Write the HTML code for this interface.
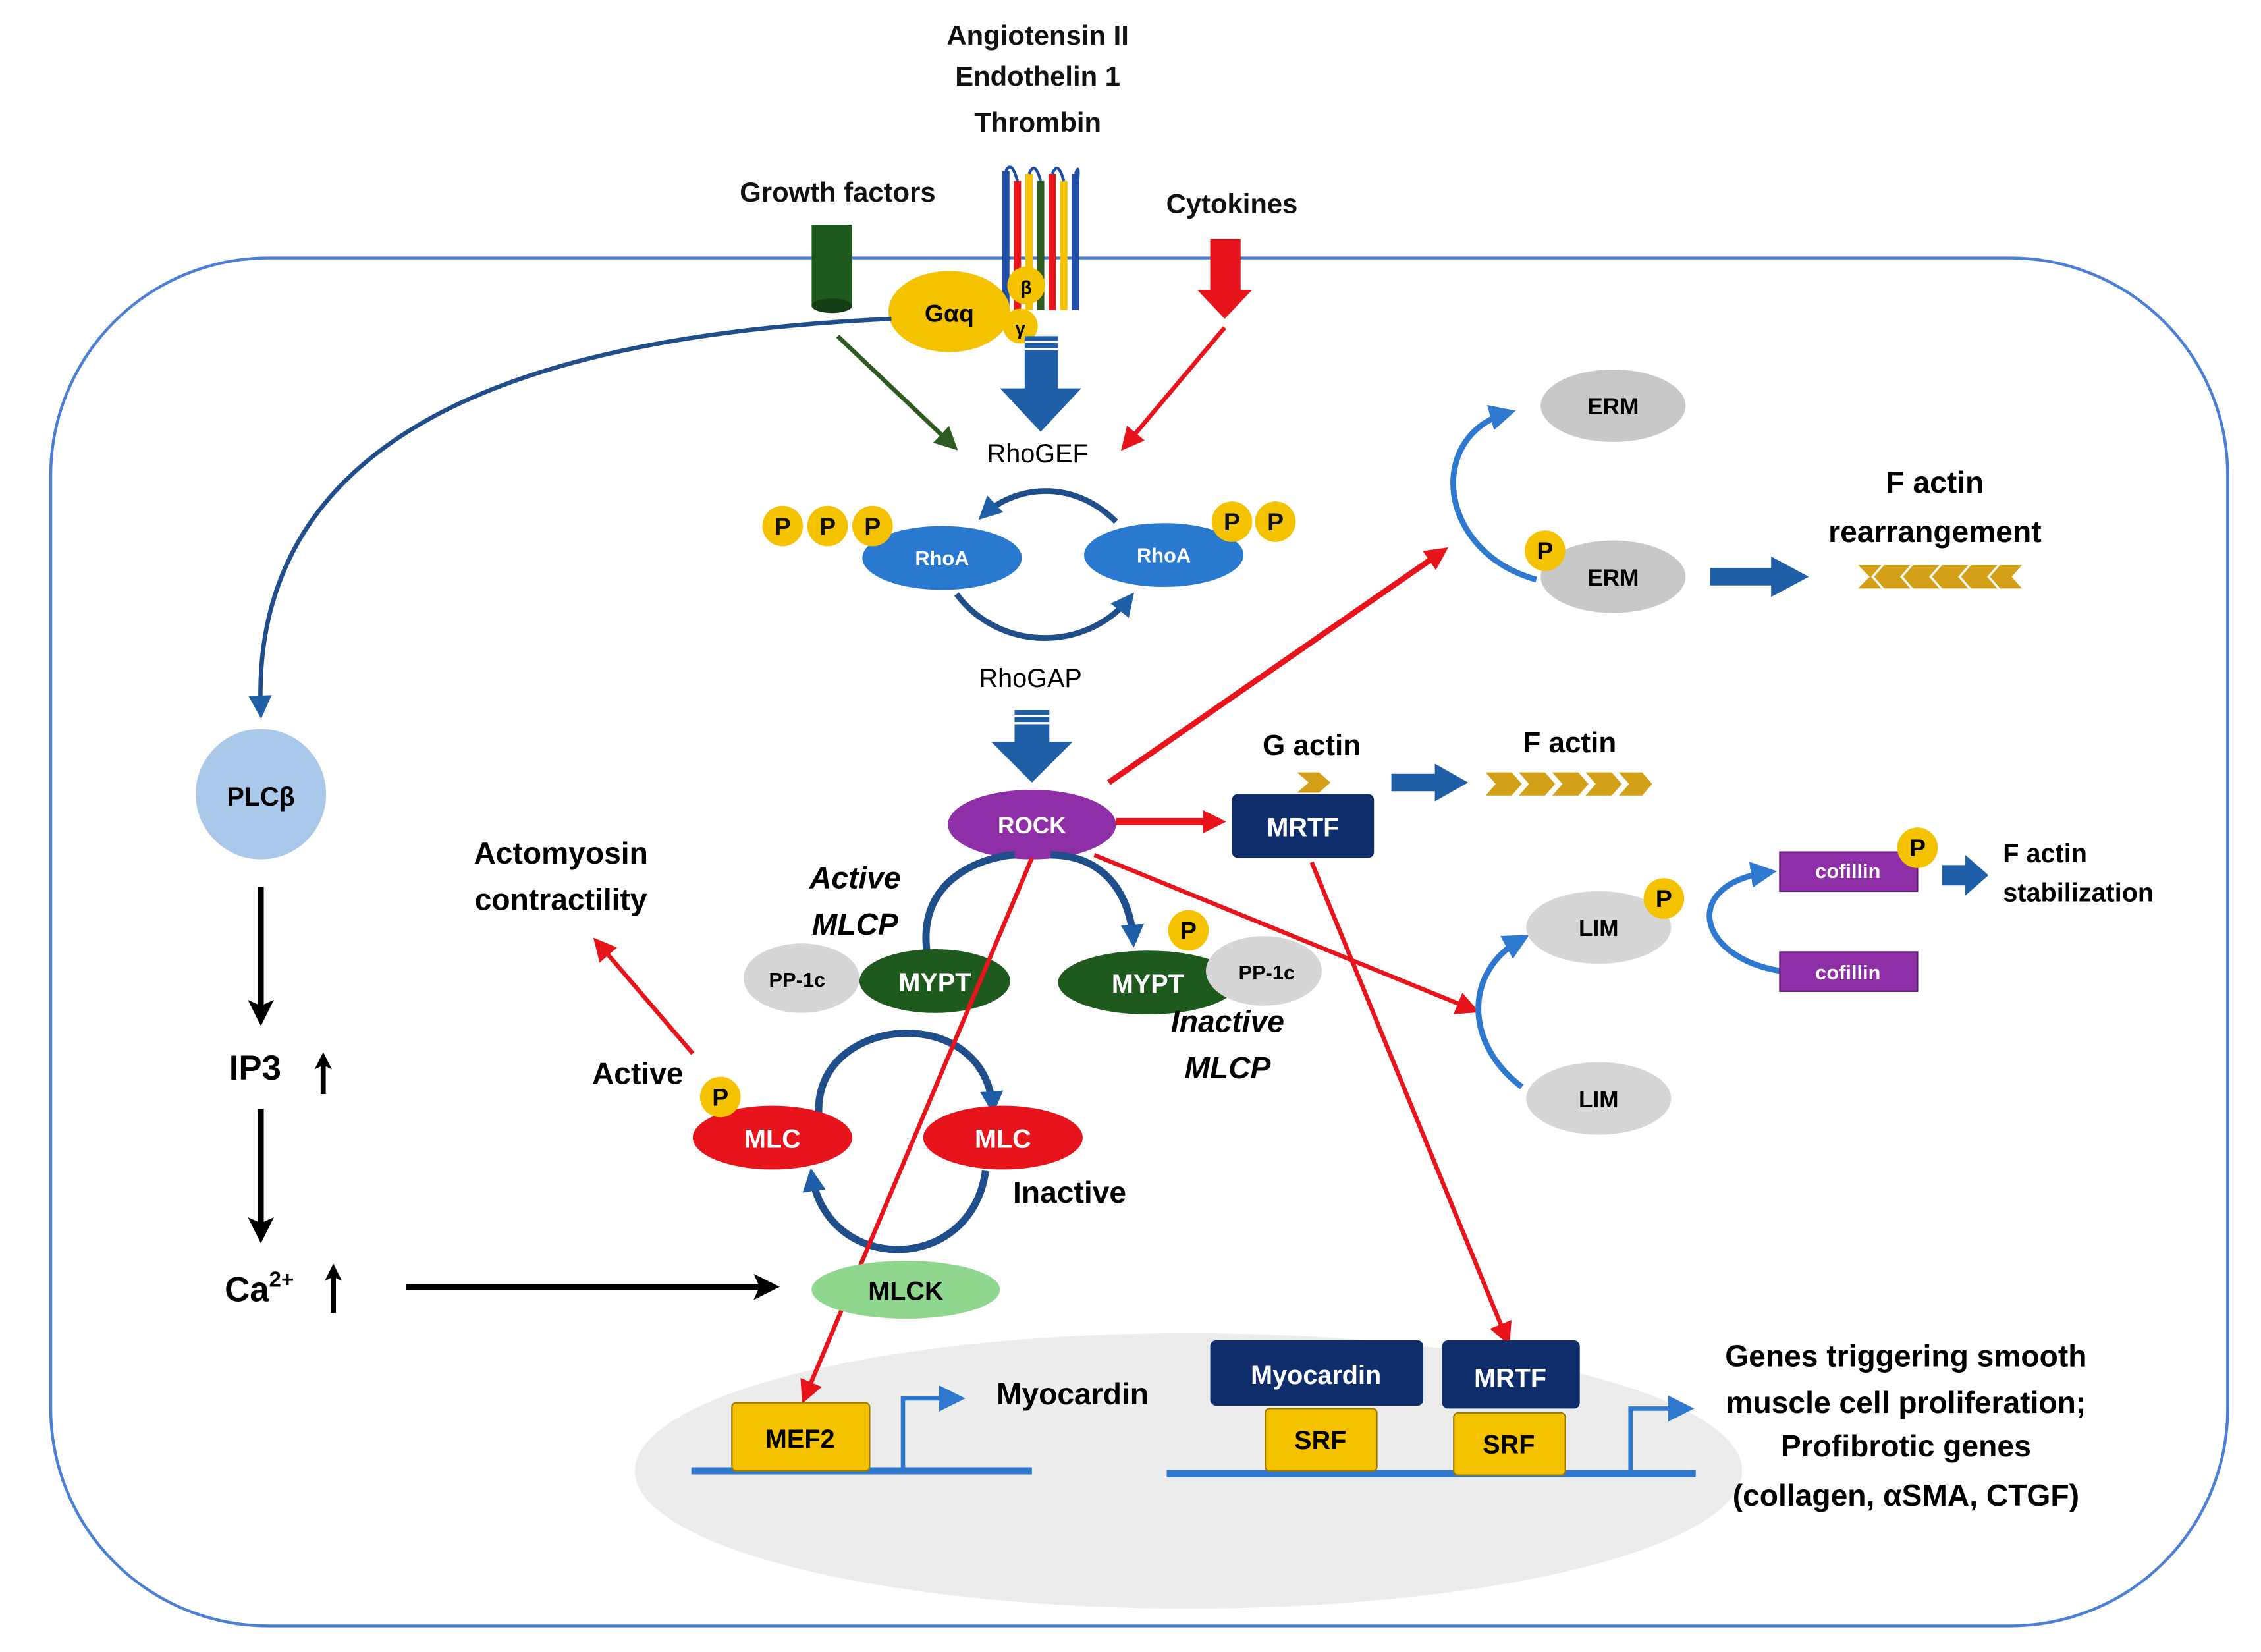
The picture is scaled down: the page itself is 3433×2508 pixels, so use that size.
<!DOCTYPE html>
<html><head><meta charset="utf-8"><style>
html,body{margin:0;padding:0;background:#fff;}
svg{display:block;}
text{font-family:"Liberation Sans",sans-serif;font-weight:bold;}
</style></head><body>
<svg width="3433" height="2508" viewBox="0 0 1560 1140" preserveAspectRatio="none" xmlns="http://www.w3.org/2000/svg">
<defs>
<marker id="arR" markerWidth="16" markerHeight="16" refX="12" refY="8" orient="auto" markerUnits="userSpaceOnUse"><path d="M0,0 L16,8 L0,16 z" fill="#e8141c"/></marker>
<marker id="arK" markerWidth="18" markerHeight="18" refX="14" refY="9" orient="auto" markerUnits="userSpaceOnUse"><path d="M0,0 L18,9 L0,18 L4,9 z" fill="#000"/></marker>
<marker id="ark" markerWidth="12" markerHeight="12" refX="8" refY="6" orient="auto" markerUnits="userSpaceOnUse"><path d="M0,0 L12,6 L0,12 L3,6 z" fill="#000"/></marker>
<marker id="arG" markerWidth="16" markerHeight="16" refX="12" refY="8" orient="auto" markerUnits="userSpaceOnUse"><path d="M0,0 L16,8 L0,16 z" fill="#2d5a1e"/></marker>
<marker id="arB" markerWidth="16" markerHeight="16" refX="12" refY="8" orient="auto" markerUnits="userSpaceOnUse"><path d="M0,0 L16,8 L0,16 z" fill="#1f5fa8"/></marker>
<marker id="arL" markerWidth="18" markerHeight="18" refX="12" refY="9" orient="auto" markerUnits="userSpaceOnUse"><path d="M0,0 L18,9 L0,18 z" fill="#2e78d0"/></marker>
</defs>
<rect x="35" y="178" width="1502" height="944" rx="150" ry="150" fill="none" stroke="#4a7fd4" stroke-width="2"/>
<ellipse cx="820" cy="1015" rx="382" ry="95" fill="#ececec"/>
<g font-size="19" text-anchor="middle" fill="#111">
<text x="716" y="31">Angiotensin II</text>
<text x="716" y="59">Endothelin 1</text>
<text x="716" y="91">Thrombin</text>
<text x="578" y="139">Growth factors</text>
<text x="850" y="147">Cytokines</text>
</g>
<g stroke-width="5" fill="none">
<path d="M694,118 V212" stroke="#1f4ea8"/>
<path d="M702,125 V214" stroke="#e8141c"/>
<path d="M710,120 V214" stroke="#f5c200"/>
<path d="M718,125 V214" stroke="#2d5a1e"/>
<path d="M726,120 V214" stroke="#e8141c"/>
<path d="M734,125 V214" stroke="#f5c200"/>
<path d="M742,120 V214" stroke="#1f4ea8"/>
</g>
<path d="M694,118 Q698,110 702,125 M710,120 Q714,110 718,125 M726,120 Q730,110 734,125 M742,120 Q746,108 742,140" stroke="#1f4ea8" stroke-width="2" fill="none"/>
<rect x="560" y="155" width="28" height="56" fill="#1e5a1e"/>
<ellipse cx="574" cy="211" rx="14" ry="5" fill="#143d14"/>
<path d="M835,165 H856 V200 H864 L845,220 L826,200 H835 Z" fill="#e8141c"/>
<ellipse cx="655" cy="215" rx="42" ry="28" fill="#f5c200"/>
<text x="655" y="222" font-size="17" text-anchor="middle">Gαq</text>
<circle cx="708" cy="197" r="13" fill="#f5c200"/><text x="708" y="203" font-size="13" text-anchor="middle">β</text>
<circle cx="704" cy="225" r="12" fill="#f5c200"/><text x="704" y="231" font-size="13" text-anchor="middle">γ</text>
<path d="M707,232 H730 V268 H746 L718,298 L690,268 H707 Z" fill="#1f5fa8"/>
<path d="M707,236 H730 M707,241 H730" stroke="#fff" stroke-width="1.5"/>
<line x1="578" y1="232" x2="658" y2="308" stroke="#2d5a1e" stroke-width="3" marker-end="url(#arG)"/>
<line x1="845" y1="226" x2="776" y2="308" stroke="#e8141c" stroke-width="3" marker-end="url(#arR)"/>
<text x="716" y="319" font-size="18" text-anchor="middle" style="font-weight:normal">RhoGEF</text>
<path d="M615,220 C400,230 170,280 180,492" stroke="#1f4e8a" stroke-width="3" fill="none" marker-end="url(#arB)"/>
<path d="M770,360 C740,330 700,335 678,356" stroke="#1f4e8a" stroke-width="4" fill="none" marker-end="url(#arB)"/>
<path d="M660,410 C690,450 750,450 780,412" stroke="#1f4e8a" stroke-width="4" fill="none" marker-end="url(#arB)"/>
<ellipse cx="650" cy="385" rx="55" ry="22" fill="#2a79d0"/>
<ellipse cx="803" cy="383" rx="55" ry="22" fill="#2a79d0"/>
<g font-size="14" fill="#fff" text-anchor="middle"><text x="650" y="390">RhoA</text><text x="803" y="388">RhoA</text></g>
<g fill="#f5c200"><circle cx="540" cy="363" r="14"/><circle cx="571" cy="363" r="14"/><circle cx="602" cy="363" r="14"/><circle cx="850" cy="360" r="14"/><circle cx="880" cy="360" r="14"/></g>
<g font-size="17" text-anchor="middle" fill="#111"><text x="540" y="369">P</text><text x="571" y="369">P</text><text x="602" y="369">P</text><text x="850" y="366">P</text><text x="880" y="366">P</text></g>
<text x="711" y="474" font-size="18" text-anchor="middle" style="font-weight:normal">RhoGAP</text>
<path d="M700,490 H724 V512 H740 L712,540 L684,512 H700 Z" fill="#1f5fa8"/>
<path d="M700,494 H724 M700,499 H724" stroke="#fff" stroke-width="1.5"/>
<line x1="765" y1="540" x2="996" y2="380" stroke="#e8141c" stroke-width="4" marker-end="url(#arR)"/>
<line x1="770" y1="567" x2="842" y2="567" stroke="#e8141c" stroke-width="5" marker-end="url(#arR)"/>
<line x1="755" y1="590" x2="1017" y2="697" stroke="#e8141c" stroke-width="3" marker-end="url(#arR)"/>
<ellipse cx="712" cy="569" rx="58" ry="24" fill="#8e2fa8"/>
<text x="712" y="575" font-size="16" fill="#fff" text-anchor="middle">ROCK</text>
<rect x="850" y="548" width="98" height="44" rx="4" fill="#0f2d6b"/>
<text x="899" y="577" font-size="18" fill="#fff" text-anchor="middle">MRTF</text>
<line x1="905" y1="595" x2="1040" y2="925" stroke="#e8141c" stroke-width="3" marker-end="url(#arR)"/>
<text x="905" y="521" font-size="20" text-anchor="middle">G actin</text>
<path d="M895,533 H910 L918,540 L910,547 H895 L903,540 Z" fill="#d4a017"/>
<text x="1083" y="519" font-size="20" text-anchor="middle">F actin</text>
<path d="M960,534 H990 V527 L1013,540 L990,553 V546 H960 Z" fill="#1f5fa8"/>
<g fill="#d4a017">
<path d="M1025,533 H1043 L1050,541 L1043,549 H1025 L1032,541 Z"/><path d="M1048,533 H1066 L1073,541 L1066,549 H1048 L1055,541 Z"/><path d="M1071,533 H1089 L1096,541 L1089,549 H1071 L1078,541 Z"/><path d="M1094,533 H1112 L1119,541 L1112,549 H1094 L1101,541 Z"/><path d="M1117,533 H1133 L1140,541 L1133,549 H1117 L1124,541 Z"/>
</g>
<path d="M1060,400 C990,380 985,300 1040,285" stroke="#2e78d0" stroke-width="4" fill="none" marker-end="url(#arL)"/>
<ellipse cx="1113" cy="280" rx="50" ry="25" fill="#c8c8c8"/>
<ellipse cx="1113" cy="398" rx="50" ry="25" fill="#c8c8c8"/>
<g font-size="16" text-anchor="middle"><text x="1113" y="286">ERM</text><text x="1113" y="404">ERM</text></g>
<circle cx="1066" cy="380" r="14" fill="#f5c200"/><text x="1066" y="386" font-size="17" text-anchor="middle">P</text>
<text x="1335" y="340" font-size="21" text-anchor="middle">F actin</text>
<text x="1335" y="374" font-size="21" text-anchor="middle">rearrangement</text>
<path d="M1180,392 H1222 V384 L1248,398 L1222,412 V404 H1180 Z" fill="#1f5fa8"/>
<g fill="#d4a017">
<path d="M1300,390 H1318 L1311,398 L1318,406 H1300 L1293,398 Z"/><path d="M1320,390 H1338 L1331,398 L1338,406 H1320 L1313,398 Z"/><path d="M1340,390 H1358 L1351,398 L1358,406 H1340 L1333,398 Z"/><path d="M1360,390 H1378 L1371,398 L1378,406 H1360 L1353,398 Z"/><path d="M1380,390 H1395 L1388,398 L1395,406 H1380 L1373,398 Z"/><path d="M1282,390 H1298 L1291,398 L1298,406 H1282 L1290,398 Z"/>
</g>
<path d="M1050,750 C1010,720 1010,670 1050,648" stroke="#2e78d0" stroke-width="4" fill="none" marker-end="url(#arL)"/>
<ellipse cx="1103" cy="640" rx="50" ry="25" fill="#d6d6d6"/>
<ellipse cx="1103" cy="758" rx="50" ry="25" fill="#d6d6d6"/>
<g font-size="16" text-anchor="middle"><text x="1103" y="646">LIM</text><text x="1103" y="764">LIM</text></g>
<circle cx="1148" cy="620" r="14" fill="#f5c200"/><text x="1148" y="626" font-size="17" text-anchor="middle">P</text>
<path d="M1228,670 C1170,660 1160,610 1220,602" stroke="#2e78d0" stroke-width="4" fill="none" marker-end="url(#arL)"/>
<rect x="1228" y="588" width="95" height="27" fill="#8e2fa8" stroke="#5a1a70"/>
<rect x="1228" y="657" width="95" height="27" fill="#8e2fa8" stroke="#5a1a70"/>
<g font-size="14" fill="#fff" text-anchor="middle"><text x="1275" y="606">cofillin</text><text x="1275" y="676">cofillin</text></g>
<circle cx="1323" cy="585" r="14" fill="#f5c200"/><text x="1323" y="591" font-size="17" text-anchor="middle">P</text>
<path d="M1340,597 H1356 V590 L1372,604 L1356,618 V611 H1340 Z" fill="#1f5fa8"/>
<text x="1382" y="595" font-size="18">F actin</text>
<text x="1382" y="622" font-size="18">stabilization</text>
<circle cx="180" cy="548" r="45" fill="#a9c8ea"/>
<text x="180" y="556" font-size="18" text-anchor="middle">PLCβ</text>
<line x1="180" y1="612" x2="180" y2="704" stroke="#000" stroke-width="4" marker-end="url(#arK)"/>
<text x="158" y="745" font-size="24">IP3</text>
<line x1="223" y1="755" x2="223" y2="730" stroke="#000" stroke-width="3.5" marker-end="url(#ark)"/>
<line x1="180" y1="765" x2="180" y2="854" stroke="#000" stroke-width="4" marker-end="url(#arK)"/>
<text x="155" y="898" font-size="24">Ca<tspan font-size="15" dy="-10">2+</tspan></text>
<line x1="230" y1="906" x2="230" y2="876" stroke="#000" stroke-width="3.5" marker-end="url(#ark)"/>
<line x1="280" y1="888" x2="534" y2="888" stroke="#000" stroke-width="4" marker-end="url(#arK)"/>
<path d="M640,660 C630,600 690,590 700,590" stroke="#1f4e8a" stroke-width="5" fill="none"/>
<path d="M725,590 C760,590 780,615 782,650" stroke="#1f4e8a" stroke-width="5" fill="none" marker-end="url(#arB)"/>
<ellipse cx="553" cy="675" rx="40" ry="24" fill="#d6d6d6"/>
<ellipse cx="645" cy="677" rx="52" ry="22" fill="#1e5a1e"/>
<text x="550" y="681" font-size="14" text-anchor="middle">PP-1c</text>
<text x="645" y="684" font-size="18" fill="#fff" text-anchor="middle">MYPT</text>
<ellipse cx="792" cy="678" rx="62" ry="22" fill="#1e5a1e"/>
<ellipse cx="872" cy="670" rx="40" ry="24" fill="#d6d6d6"/>
<text x="792" y="685" font-size="18" fill="#fff" text-anchor="middle">MYPT</text>
<text x="874" y="676" font-size="14" text-anchor="middle">PP-1c</text>
<circle cx="820" cy="642" r="14" fill="#f5c200"/><text x="820" y="648" font-size="17" text-anchor="middle">P</text>
<g font-size="21" font-style="italic" text-anchor="middle"><text x="590" y="613">Active</text><text x="590" y="645">MLCP</text><text x="847" y="712">Inactive</text><text x="847" y="744">MLCP</text></g>
<path d="M565,770 C560,700 680,690 685,765" stroke="#1f4e8a" stroke-width="5" fill="none" marker-end="url(#arB)"/>
<path d="M680,808 C670,880 570,880 560,810" stroke="#1f4e8a" stroke-width="5" fill="none" marker-end="url(#arB)"/>
<line x1="712" y1="592" x2="555" y2="965" stroke="#e8141c" stroke-width="3" marker-end="url(#arR)"/>
<ellipse cx="533" cy="785" rx="55" ry="22" fill="#e8141c"/>
<ellipse cx="692" cy="785" rx="55" ry="22" fill="#e8141c"/>
<g font-size="18" fill="#fff" text-anchor="middle"><text x="533" y="792">MLC</text><text x="692" y="792">MLC</text></g>
<circle cx="497" cy="757" r="14" fill="#f5c200"/><text x="497" y="763" font-size="17" text-anchor="middle">P</text>
<text x="440" y="748" font-size="21" text-anchor="middle">Active</text>
<text x="738" y="830" font-size="21" text-anchor="middle">Inactive</text>
<ellipse cx="625" cy="890" rx="65" ry="20" fill="#8fd68f"/>
<text x="625" y="897" font-size="18" text-anchor="middle">MLCK</text>
<text x="387" y="596" font-size="21" text-anchor="middle">Actomyosin</text>
<text x="387" y="628" font-size="21" text-anchor="middle">contractility</text>
<line x1="478" y1="727" x2="412" y2="650" stroke="#e8141c" stroke-width="3" marker-end="url(#arR)"/>
<line x1="477" y1="1015" x2="712" y2="1015" stroke="#2e78d0" stroke-width="5"/>
<rect x="505" y="968" width="95" height="47" rx="3" fill="#f5c200" stroke="#9a7a00"/>
<text x="552" y="999" font-size="18" text-anchor="middle">MEF2</text>
<path d="M623,1015 V965 H660" stroke="#2e78d0" stroke-width="3" fill="none" marker-end="url(#arL)"/>
<text x="740" y="969" font-size="21" text-anchor="middle">Myocardin</text>
<line x1="805" y1="1017" x2="1170" y2="1017" stroke="#2e78d0" stroke-width="5"/>
<rect x="835" y="925" width="147" height="45" rx="4" fill="#0f2d6b"/>
<text x="908" y="955" font-size="18" fill="#fff" text-anchor="middle">Myocardin</text>
<rect x="995" y="925" width="95" height="47" rx="4" fill="#0f2d6b"/>
<text x="1042" y="957" font-size="18" fill="#fff" text-anchor="middle">MRTF</text>
<rect x="873" y="972" width="77" height="43" rx="3" fill="#f5c200" stroke="#9a7a00"/>
<rect x="1003" y="975" width="77" height="43" rx="3" fill="#f5c200" stroke="#9a7a00"/>
<text x="911" y="1000" font-size="18" text-anchor="middle">SRF</text>
<text x="1041" y="1003" font-size="18" text-anchor="middle">SRF</text>
<path d="M1125,1017 V972 H1163" stroke="#2e78d0" stroke-width="3" fill="none" marker-end="url(#arL)"/>
<g font-size="21" text-anchor="middle"><text x="1315" y="943">Genes triggering smooth</text><text x="1315" y="975">muscle cell proliferation;</text><text x="1315" y="1005">Profibrotic genes</text><text x="1315" y="1039">(collagen, αSMA, CTGF)</text></g>
</svg>
</body></html>
